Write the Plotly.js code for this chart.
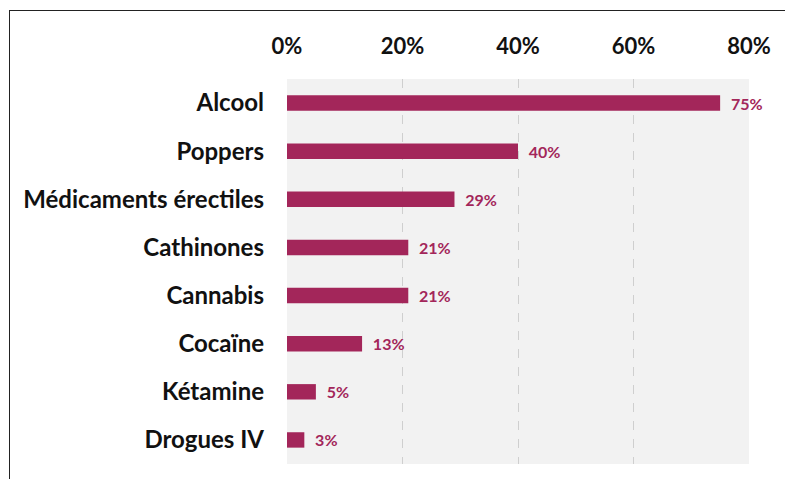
<!DOCTYPE html>
<html>
<head>
<meta charset="utf-8">
<script src="https://cdn.plot.ly/plotly-3.0.1.min.js"></script>
<style>
html,body{margin:0;padding:0;background:#fff;}
#wrap{position:relative;width:785px;height:479px;}
#chart{width:785px;height:479px;}
#frame{position:absolute;left:9px;top:10px;right:0;bottom:0;border-top:1.5px solid #222;border-left:1.5px solid #222;pointer-events:none;}
</style>
</head>
<body>
<div id="wrap"><div id="chart"></div><div id="frame"></div></div>
<script>
const categories = ["Alcool","Poppers","Médicaments érectiles","Cathinones","Cannabis","Cocaïne","Kétamine","Drogues IV"];
const values = [75,40,29,21,21,13,5,3];
const tickValues = [0,20,40,60,80];
const tickLabels = ["0%","20%","40%","60%","80%"];

const barColor = "#a3265a";
const trace = {
  type: "bar",
  orientation: "h",
  y: categories,
  x: values,
  marker: {color: barColor},
  width: 0.32,
  text: values.map(v => "  " + v + "%"),
  textposition: "outside",
  constraintext: "none",
  textfont: {family: "Lato, 'Open Sans', sans-serif", size: 16, color: barColor, weight: "bold"},
  outsidetextfont: {family: "Lato, 'Open Sans', sans-serif", size: 16, color: barColor, weight: "bold"},
  cliponaxis: false,
  hoverinfo: "none"
};

const layout = {
  width: 785, height: 479,
  margin: {l: 287, r: 36, t: 79, b: 15},
  paper_bgcolor: "#ffffff",
  plot_bgcolor: "#f2f2f2",
  showlegend: false,
  uniformtext: {mode: false},
  xaxis: {
    side: "top",
    range: [0, 80],
    tickvals: tickValues,
    ticktext: tickLabels,
    tickfont: {family: "Lato, 'Open Sans', sans-serif", size: 22, color: "#111", weight: "bold"},
    showgrid: true,
    gridcolor: "#cfcfcf",
    griddash: "dash",
    gridwidth: 1,
    zeroline: false,
    showline: false,
    ticks: "",
    ticklabelstandoff: 20,
    fixedrange: true
  },
  yaxis: {
    autorange: "reversed",
    type: "category",
    tickfont: {family: "Lato, 'Open Sans', sans-serif", size: 24, color: "#111", weight: "bold"},
    showgrid: false,
    zeroline: false,
    showline: false,
    ticks: "",
    ticklabelstandoff: 22,
    fixedrange: true
  }
};

Plotly.newPlot("chart", [trace], layout, {displayModeBar: false, staticPlot: true});
</script>
</body>
</html>
